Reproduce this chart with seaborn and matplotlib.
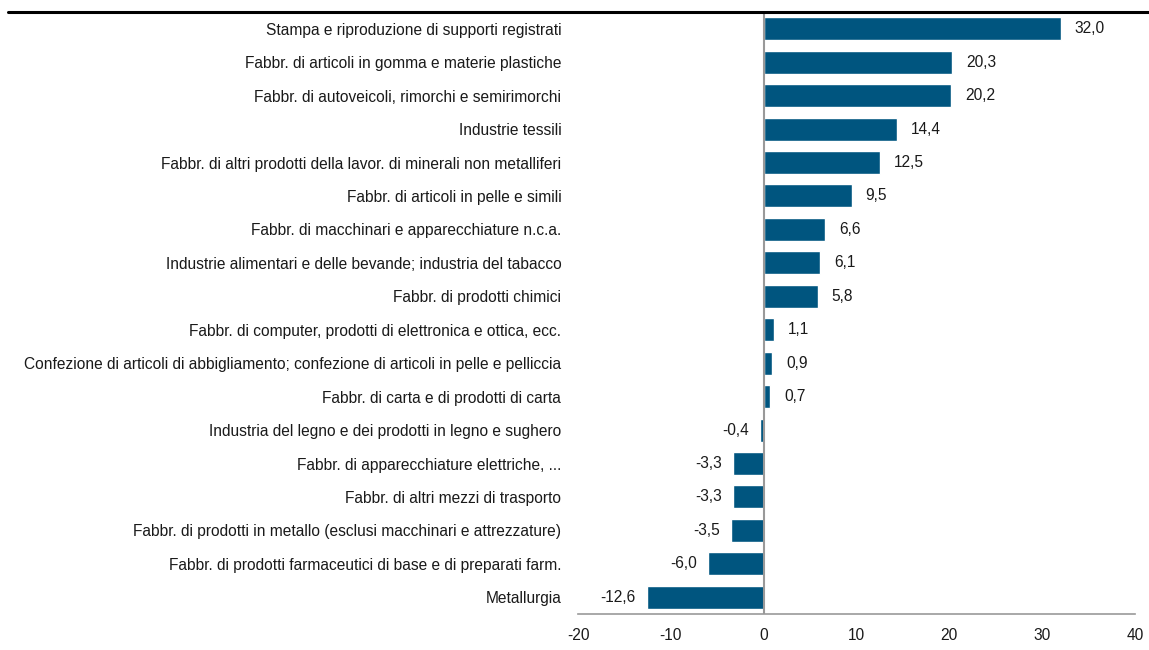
import matplotlib
matplotlib.use("Agg")
import matplotlib.pyplot as plt
import seaborn as sns
import pandas as pd
from matplotlib.lines import Line2D

categories = [
    "Stampa e riproduzione di supporti registrati",
    "Fabbr. di articoli in gomma e materie plastiche",
    "Fabbr. di autoveicoli, rimorchi e semirimorchi",
    "Industrie tessili",
    "Fabbr. di altri prodotti della lavor. di minerali non metalliferi",
    "Fabbr. di articoli in pelle e simili",
    "Fabbr. di macchinari e apparecchiature n.c.a.",
    "Industrie alimentari e delle bevande; industria del tabacco",
    "Fabbr. di prodotti chimici",
    "Fabbr. di computer, prodotti di elettronica e ottica, ecc.",
    "Confezione di articoli di abbigliamento; confezione di articoli in pelle e pelliccia",
    "Fabbr. di carta e di prodotti di carta",
    "Industria del legno e dei prodotti in legno e sughero",
    "Fabbr. di apparecchiature elettriche, ...",
    "Fabbr. di altri mezzi di trasporto",
    "Fabbr. di prodotti in metallo (esclusi macchinari e attrezzature)",
    "Fabbr. di prodotti farmaceutici di base e di preparati farm.",
    "Metallurgia",
]
values = [32.0, 20.3, 20.2, 14.4, 12.5, 9.5, 6.6, 6.1, 5.8, 1.1, 0.9, 0.7,
          -0.4, -3.3, -3.3, -3.5, -6.0, -12.6]
x_ticks = [-20, -10, 0, 10, 20, 30, 40]

sns.set_theme(style="white")
plt.rcParams["font.family"] = ["Liberation Sans", "DejaVu Sans"]

df = pd.DataFrame({"cat": categories, "val": values})

fs = 11.2
fig = plt.figure(figsize=(11.49, 6.5), dpi=100)
ax = fig.add_axes([578 / 1149, 1 - 614 / 650, (1135 - 578) / 1149, (614 - 12) / 650])

sns.barplot(data=df, y="cat", x="val", orient="h", color="#00557F",
            saturation=1, width=0.69, ax=ax)

ax.set_xlim(-20, 40)
ax.set_ylim(len(categories) - 0.5, -0.5)
ax.set_xticks(x_ticks)
ax.set_xticklabels([str(t) for t in x_ticks], fontsize=fs, color="#1a1a1a")
ax.tick_params(axis="y", labelsize=fs, pad=12, length=0, labelcolor="#1a1a1a")
ax.tick_params(axis="x", length=0, pad=10)
ax.set_xlabel("")
ax.set_ylabel("")

for s in ["top", "right", "left"]:
    ax.spines[s].set_visible(False)
ax.spines["bottom"].set_color("#999999")
ax.spines["bottom"].set_linewidth(1.2)
ax.axvline(0, color="#999999", lw=1.5, zorder=3)

for i, v in enumerate(values):
    lab = f"{v:.1f}".replace(".", ",")
    if v >= 0:
        ax.annotate(lab, (v, i), xytext=(10, 0), textcoords="offset points",
                    ha="left", va="center", fontsize=fs, color="#1a1a1a")
    else:
        ax.annotate(lab, (v, i), xytext=(-8, 0), textcoords="offset points",
                    ha="right", va="center", fontsize=fs, color="#1a1a1a")

fig.add_artist(Line2D([8 / 1149, 1.0], [1 - 12 / 650, 1 - 12 / 650],
                      color="black", lw=2.2, transform=fig.transFigure))

fig.savefig("out.png", dpi=100)
